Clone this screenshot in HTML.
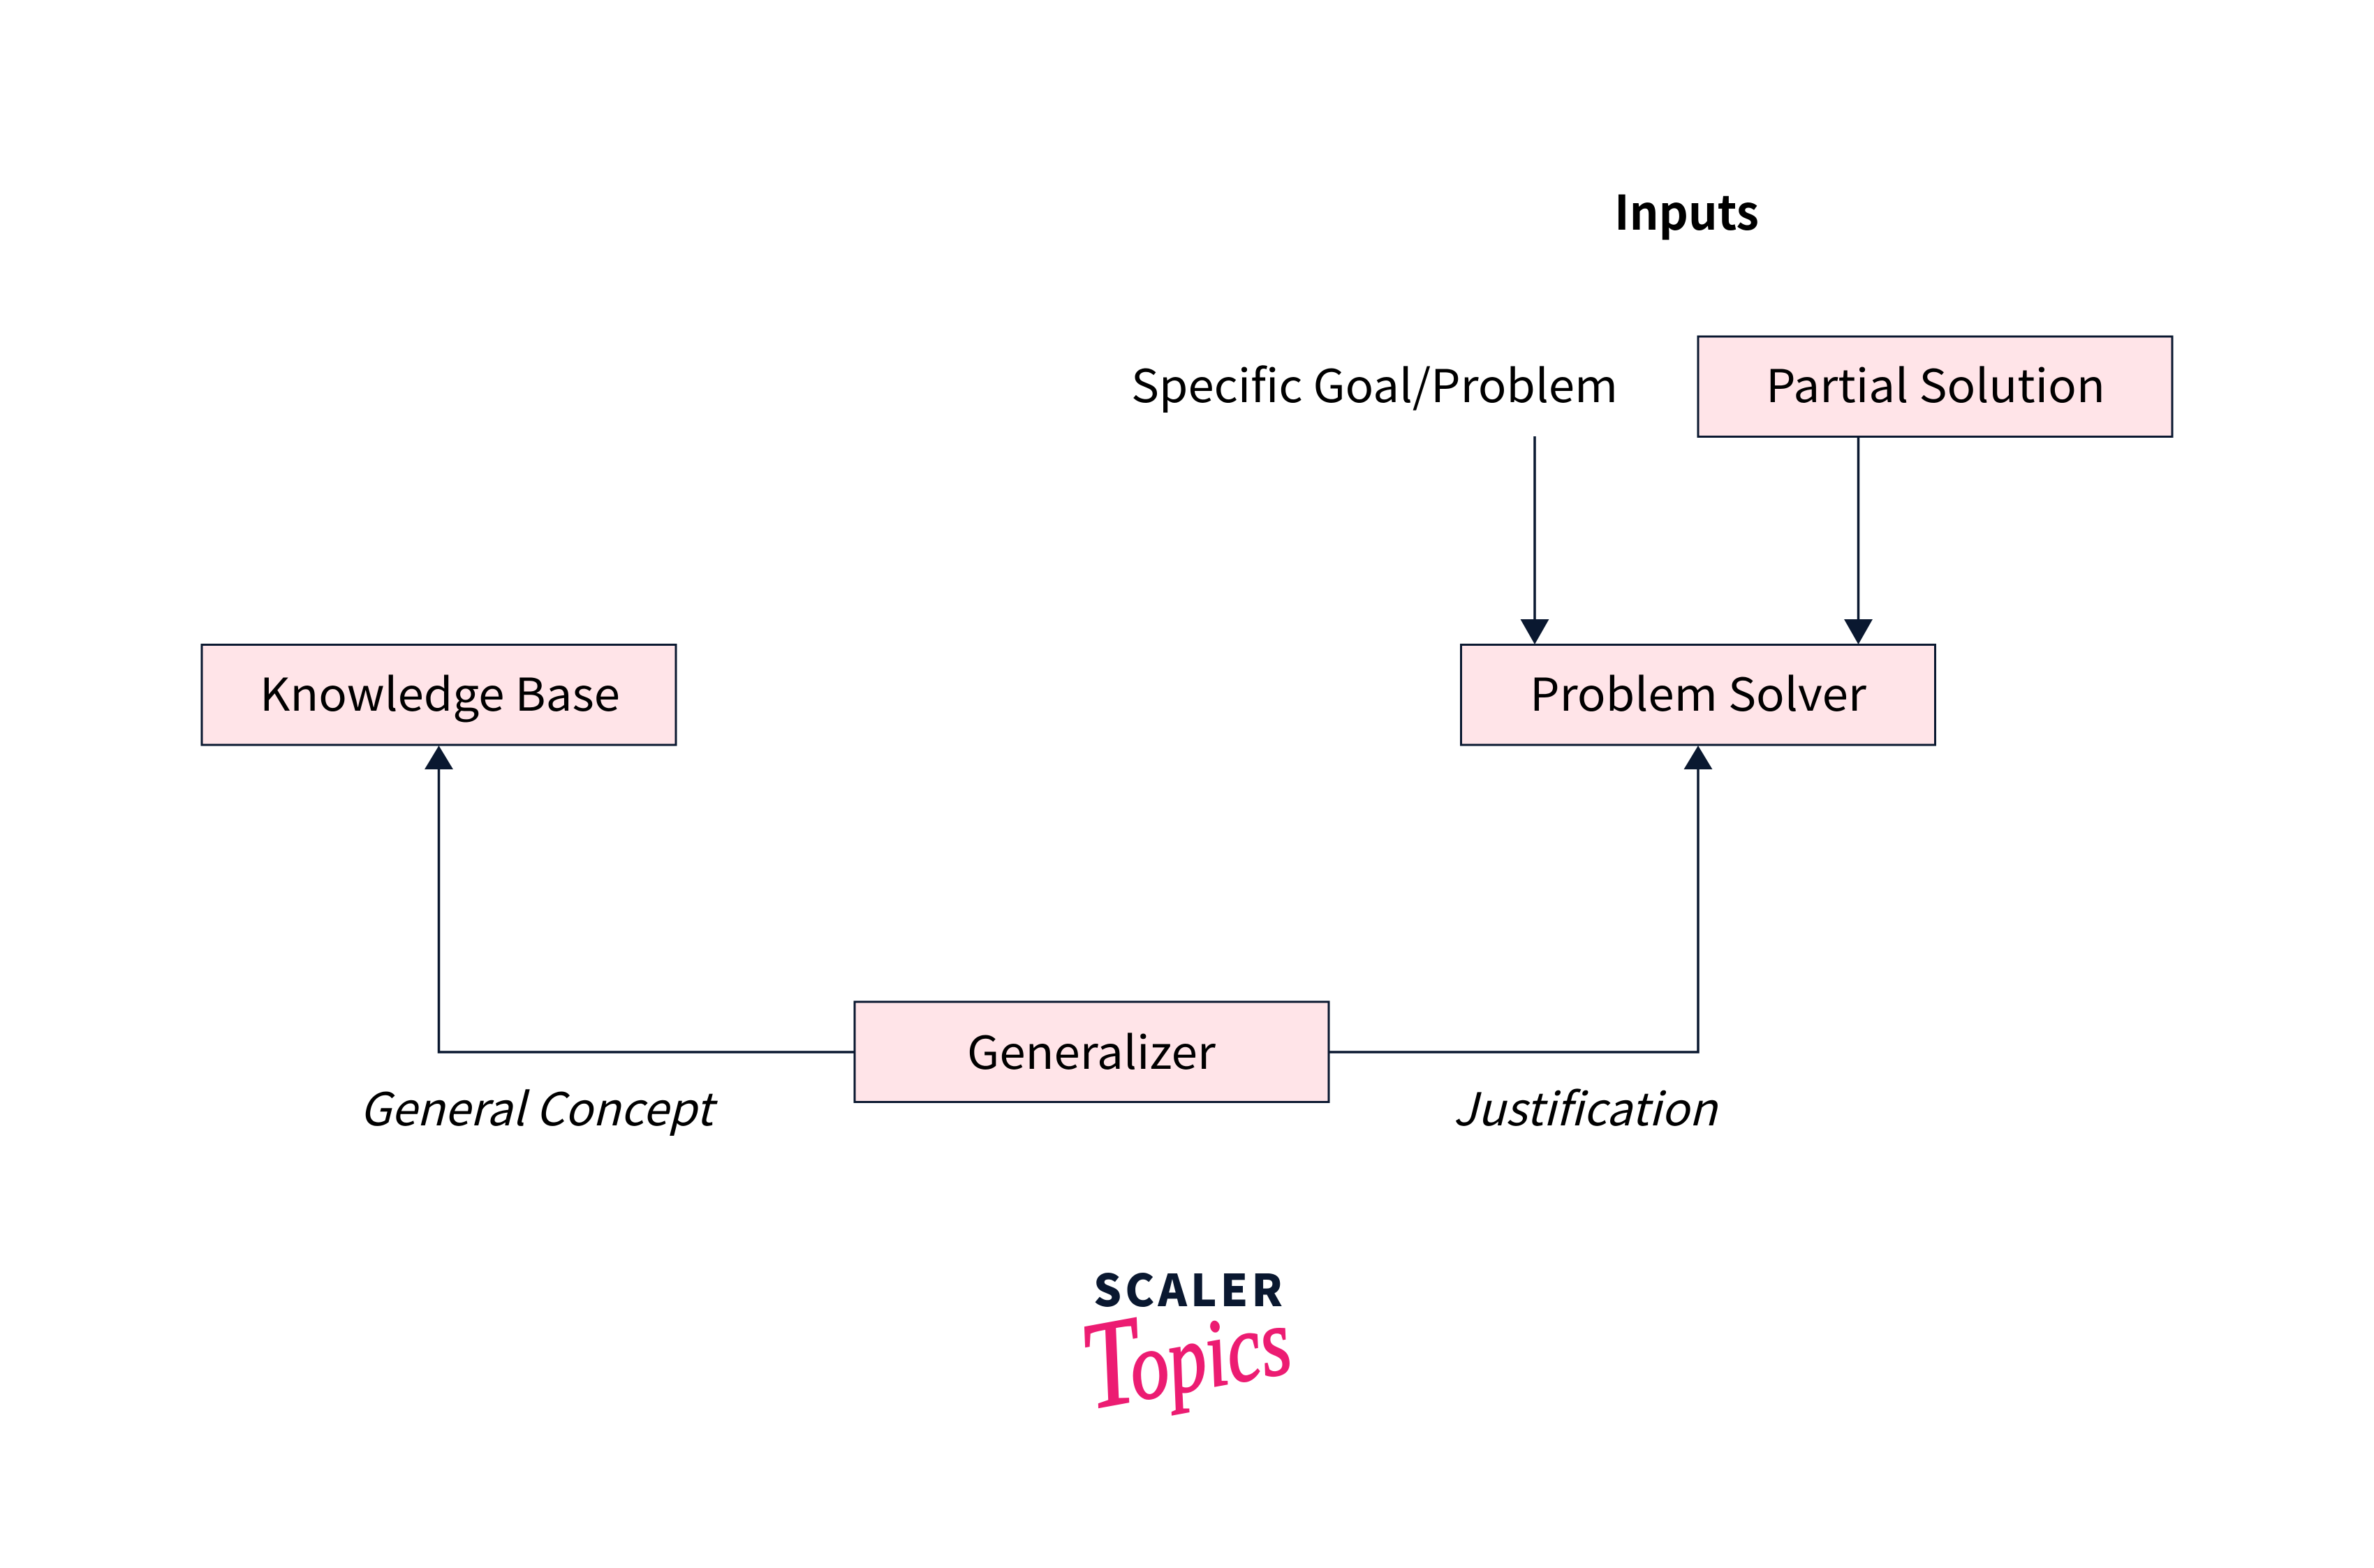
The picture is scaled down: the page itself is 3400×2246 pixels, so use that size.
<!DOCTYPE html>
<html lang="en">
<head>
<meta charset="utf-8">
<title>Inductive learning diagram</title>
<style>
html,body{margin:0;padding:0;background:#fff;}
svg{display:block;}
text{font-family:"Noto Sans CJK JP","Liberation Sans",sans-serif;fill:#000;font-size:65px;}
</style>
</head>
<body>
<svg xmlns="http://www.w3.org/2000/svg" width="3400" height="2246" viewBox="0 0 3400 2246">
  <rect width="3400" height="2246" fill="#ffffff"/>
  <g fill="#FFE4E8" stroke="#0A1830" stroke-width="3">
    <rect x="289" y="923.5" width="679" height="143.5"/>
    <rect x="2092.5" y="923.5" width="679" height="143.5"/>
    <rect x="2432" y="482" width="679" height="143.5"/>
    <rect x="1224" y="1435" width="679" height="143.5"/>
  </g>
  <g fill="none" stroke="#0A1830" stroke-width="3.5">
    <path d="M1224 1507H628.5V1100"/>
    <path d="M1903 1507H2432V1100"/>
    <path d="M2198 625V889"/>
    <path d="M2661.5 625V889"/>
  </g>
  <g fill="#0A1830">
    <polygon points="628.5,1068 608,1102 649,1102"/>
    <polygon points="2432,1068 2411.5,1102 2452.5,1102"/>
    <polygon points="2198,923 2177.5,887 2218.5,887"/>
    <polygon points="2661.5,923 2641,887 2682,887"/>
  </g>
  <text x="2312" y="329" font-weight="700" textLength="207" lengthAdjust="spacingAndGlyphs" style="font-size:68px">Inputs</text>
  <text x="1620" y="576" textLength="697" lengthAdjust="spacingAndGlyphs">Specific Goal/Problem</text>
  <text x="2529" y="576" textLength="486" lengthAdjust="spacingAndGlyphs">Partial Solution</text>
  <text x="372" y="1018" textLength="516" lengthAdjust="spacingAndGlyphs">Knowledge Base</text>
  <text x="2191" y="1018" textLength="482" lengthAdjust="spacingAndGlyphs">Problem Solver</text>
  <text x="1385" y="1531" textLength="356" lengthAdjust="spacingAndGlyphs">Generalizer</text>
  <text x="515" y="1612" font-style="italic" textLength="506" lengthAdjust="spacingAndGlyphs">General Concept</text>
  <text x="2081" y="1612" font-style="italic" textLength="378" lengthAdjust="spacingAndGlyphs">Justification</text>
  <text x="1566" y="1871" font-weight="900" textLength="271" lengthAdjust="spacing" style="font-size:63px;fill:#0A1830">SCALER</text>
  <g transform="translate(1562 2018) rotate(-10.4) scale(1 1.25)">
    <text x="0" y="0" style="font-family:'Liberation Serif',serif;font-style:italic;fill:#EC1C72;stroke:#EC1C72;stroke-width:2;font-size:110px"><tspan style="font-size:142px">T</tspan><tspan dx="-14">opics</tspan></text>
  </g>
</svg>
</body>
</html>
